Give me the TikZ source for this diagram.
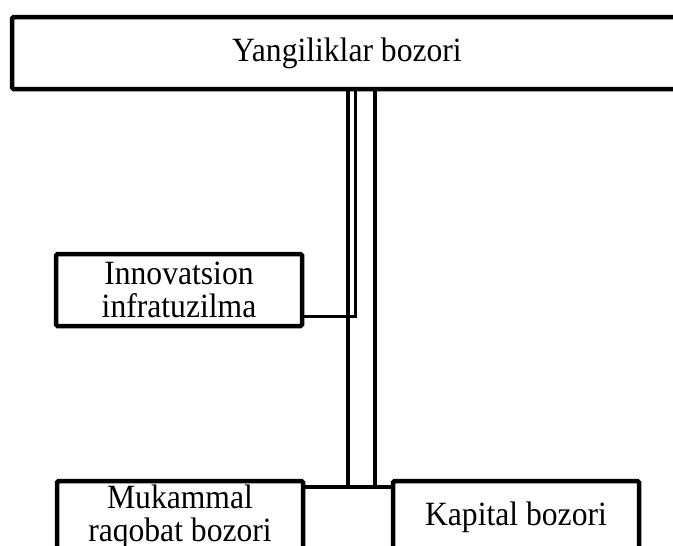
\documentclass[tikz,border=0pt]{standalone}
\usepackage{fontspec}
\setmainfont{Liberation Serif}[FakeStretch=0.93]
\begin{document}
\begin{tikzpicture}[x=1pt,y=-1pt,
  box/.style={draw=black, line width=4.5pt, rounded corners=1.5pt, outer sep=0pt,
    inner sep=0pt, align=center, font=\fontsize{34}{33}\selectfont},
  conn/.style={draw=black, line width=4.5pt},
  thinconn/.style={draw=black, line width=3pt, line join=miter}]
\useasboundingbox (0,0) rectangle (673,546);
\clip (0,0) rectangle (673,546);
% boxes
\node[box, minimum width=670pt, minimum height=72pt] (top) at (347,53) {Yangiliklar bozori};
\node[box, minimum width=246pt, minimum height=72pt] (inf) at (179,290) {Innovatsion\\infratuzilma};
\node[box, minimum width=246pt, minimum height=72pt] (muk) at (180,517) {Mukammal\\raqobat bozori};
\node[box, minimum width=246pt, minimum height=72pt] (kap) at (516,517) {Kapital bozori};
% connector endpoints
\coordinate (l1) at (348,487);
\coordinate (l2) at (375,487);
\coordinate (ij) at (355,316);
% vertical trunks from the top box
\draw[conn] (l1 |- top.south) -- (l1);
\draw[conn] (l2 |- top.south) -- (l2);
% bottom bar joining the two lower boxes
\draw[conn, line width=4pt] ([yshift=-6pt]muk.north east) -- ([yshift=-6pt]kap.north west);
% branch from the infrastructure box
\draw[thinconn] (inf.east |- ij) -- (ij) -- (ij |- top.south);
\end{tikzpicture}
\end{document}
